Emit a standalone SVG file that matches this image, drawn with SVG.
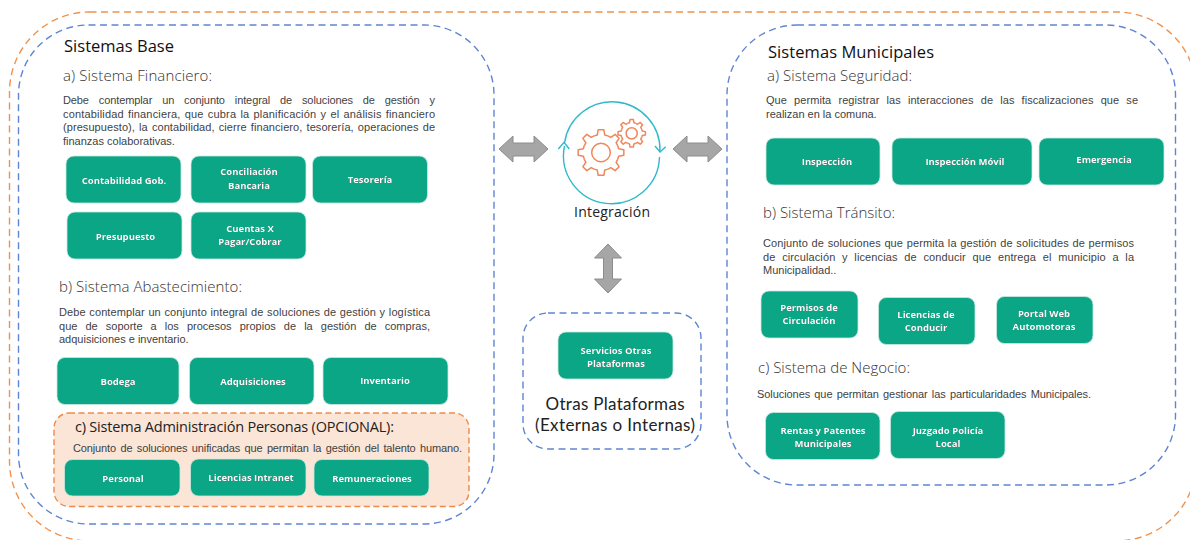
<svg xmlns="http://www.w3.org/2000/svg" xmlns:xlink="http://www.w3.org/1999/xlink" width="1190" height="540" viewBox="0 0 1190 540">
<style>
text{font-family:"Open Sans","Liberation Sans",sans-serif}
.oc{fill:none;stroke:#f0924e;stroke-width:1.4;stroke-dasharray:7 4.5}
.bc{fill:none;stroke:#5f85d2;stroke-width:1.4;stroke-dasharray:7 4.5}
.g{fill:#0ba686;stroke:#c9e9e0;stroke-width:.8}
.l{fill:#fff;font-size:9.5px;font-weight:700;text-anchor:middle;filter:drop-shadow(.6px .6px .5px rgba(0,0,0,.5))}
.h{fill:#111;font-size:16.5px}
.s{fill:#333;font-size:15px;font-weight:300}
.b{fill:#3f3f3f;font-size:11px;font-family:"Liberation Sans",Arial,sans-serif}
.ot{fill:#222;font-size:17px;text-anchor:middle;font-family:Lato,"Open Sans",sans-serif}
.ar{fill:#a6a6a6;stroke:#8c8c8c;stroke-width:1}
.tl{fill:none;stroke:#2fb9c9;stroke-width:1.4}
.gr{fill:none;stroke:#f0875a;stroke-width:1.5;stroke-linejoin:round}
</style>
<defs>
<path id="tooth" d="M-6.89-16.63Q-5.3-17.2-3.74-17.6L-2.8-22.83L2.8-22.83L3.74-17.6Q5.3-17.2 6.89-16.63"/>
<g id="gear">
<use xlink:href="#tooth" href="#tooth"/>
<use xlink:href="#tooth" href="#tooth" transform="rotate(45)"/>
<use xlink:href="#tooth" href="#tooth" transform="rotate(90)"/>
<use xlink:href="#tooth" href="#tooth" transform="rotate(135)"/>
<use xlink:href="#tooth" href="#tooth" transform="rotate(180)"/>
<use xlink:href="#tooth" href="#tooth" transform="rotate(225)"/>
<use xlink:href="#tooth" href="#tooth" transform="rotate(270)"/>
<use xlink:href="#tooth" href="#tooth" transform="rotate(315)"/>
<circle r="9.3"/>
</g>
</defs>
<rect width="1190" height="540" fill="#fff"/>

<g id="outer"><rect class="oc" x="9.5" y="12" width="1187" height="529" rx="80"/></g>

<g id="sistemas-base">
<rect class="bc" x="18.5" y="25" width="475.5" height="499" rx="70"/>
<text class="h" x="64" y="52" textLength="110">Sistemas Base</text>
<text class="s" x="63" y="81" textLength="149">a) Sistema Financiero:</text>
<text class="b" x="63" y="104" word-spacing="7" textLength="372">Debe contemplar un conjunto integral de soluciones de gestión y</text>
<text class="b" x="63" y="117.5" word-spacing="1" textLength="372">contabilidad financiera, que cubra la planificación y el análisis financiero</text>
<text class="b" x="63" y="131" word-spacing="1" textLength="372">(presupuesto), la contabilidad, cierre financiero, tesorería, operaciones de</text>
<text class="b" x="63" y="144.5">finanzas colaborativas.</text>
<text class="s" x="59" y="292" textLength="183">b) Sistema Abastecimiento:</text>
<text class="b" x="59" y="316" word-spacing=".5" textLength="371">Debe contemplar un conjunto integral de soluciones de gestión y logística</text>
<text class="b" x="59" y="329.5" word-spacing="5" textLength="371">que de soporte a los procesos propios de la gestión de compras,</text>
<text class="b" x="59" y="343">adquisiciones e inventario.</text>
</g>
<g id="contabilidad"><rect class="g" x="66" y="156" width="115" height="47" rx="8"/><text class="l" x="124" y="183.5">Contabilidad Gob.</text></g>
<g id="conciliacion"><rect class="g" x="191" y="156" width="115" height="47" rx="8"/><text class="l" x="249" y="175">Conciliación</text><text class="l" x="249" y="188.5">Bancaria</text></g>
<g id="tesoreria"><rect class="g" x="312.5" y="156" width="115" height="47" rx="8"/><text class="l" x="370" y="183">Tesorería</text></g>
<g id="presupuesto"><rect class="g" x="67" y="212" width="115" height="47" rx="8"/><text class="l" x="125.5" y="239.5">Presupuesto</text></g>
<g id="cuentas"><rect class="g" x="191" y="212" width="115" height="47" rx="8"/><text class="l" x="250" y="231.5">Cuentas X</text><text class="l" x="250" y="244.5">Pagar/Cobrar</text></g>
<g id="bodega"><rect class="g" x="57" y="357.5" width="122" height="47" rx="8"/><text class="l" x="118" y="384.5">Bodega</text></g>
<g id="adquisiciones"><rect class="g" x="189.5" y="357.5" width="124.5" height="47" rx="8"/><text class="l" x="253" y="385">Adquisiciones</text></g>
<g id="inventario"><rect class="g" x="323" y="357.5" width="125" height="47" rx="8"/><text class="l" x="385" y="383.5">Inventario</text></g>

<g id="administracion-personas">
<rect x="54" y="413" width="415" height="93.5" rx="15" fill="#fbe5d6" stroke="#ed8a4a" stroke-width="1.4" stroke-dasharray="6 3.5"/>
<text x="75" y="432" fill="#222" font-size="14.5" textLength="319">c) Sistema Administración Personas (OPCIONAL):</text>
<text class="b" x="73" y="451.5" word-spacing="1.5" textLength="389">Conjunto de soluciones unificadas que permitan la gestión del talento humano.</text>
</g>
<g id="personal"><rect class="g" x="64.5" y="459.5" width="115.5" height="36.5" rx="8"/><text class="l" x="123" y="481.5">Personal</text></g>
<g id="licencias-intranet"><rect class="g" x="190.5" y="459" width="115.5" height="37" rx="8"/><text class="l" x="251" y="481">Licencias Intranet</text></g>
<g id="remuneraciones"><rect class="g" x="314" y="459.5" width="115" height="36.5" rx="8"/><text class="l" x="372" y="481.5">Remuneraciones</text></g>

<g id="integracion">
<path class="tl" d="M659.5 157A48 48 0 1 1 564.5 146"/>
<path class="tl" d="M564.5 143A48 48 0 0 1 660 151"/>
<path class="tl" d="M558.3 149L564 142.3L569.3 149"/>
<path class="tl" d="M655 146L660 152L665.700 146.700"/>
<use class="gr" xlink:href="#gear" href="#gear" transform="translate(601 152.5)"/>
<use class="gr" xlink:href="#gear" href="#gear" transform="translate(631.7 133.3) scale(.6)" style="stroke-width:2.5"/>
<text x="612" y="217" fill="#222" font-size="14" text-anchor="middle" textLength="76">Integración</text>
</g>

<g id="connectors">
<path class="ar" d="M499 149L513 136V143H534V136L548 149L534 162V156H513V162Z"/>
<path class="ar" d="M673 149L687 136V143H708V136L722 149L708 162V156H687V162Z"/>
<path class="ar" d="M608 244L621.5 258H612.5V279H621.5L608 293L594.5 279H603.5V258H594.5Z"/>
</g>

<g id="otras-plataformas">
<rect class="bc" x="523" y="313" width="178" height="136" rx="25"/>
<text class="ot" x="615" y="410" textLength="139">Otras Plataformas</text>
<text class="ot" x="615" y="431" textLength="160">(Externas o Internas)</text>
</g>
<g id="servicios"><rect class="g" x="558" y="332" width="115" height="47" rx="8"/><text class="l" x="616" y="354">Servicios Otras</text><text class="l" x="616" y="367">Plataformas</text></g>

<g id="sistemas-municipales">
<rect class="bc" x="727" y="25" width="448.5" height="460" rx="70"/>
<text class="h" x="768" y="58" textLength="166">Sistemas Municipales</text>
<text class="s" x="767" y="81" textLength="145">a) Sistema Seguridad:</text>
<text class="b" x="766" y="104" word-spacing="4" textLength="372">Que permita registrar las interacciones de las fiscalizaciones que se</text>
<text class="b" x="766" y="117.5">realizan en la comuna.</text>
<text class="s" x="763" y="218" textLength="132">b) Sistema Tránsito:</text>
<text class="b" x="763" y="247" word-spacing=".5" textLength="371">Conjunto de soluciones que permita la gestión de solicitudes de permisos</text>
<text class="b" x="763" y="260.5" word-spacing="3.5" textLength="371">de circulación y licencias de conducir que entrega el municipio a la</text>
<text class="b" x="763" y="274">Municipalidad..</text>
<text class="s" x="758" y="373" textLength="152">c) Sistema de Negocio:</text>
<text class="b" x="757" y="397.5" word-spacing="1.2" textLength="334">Soluciones que permitan gestionar las particularidades Municipales.</text>
</g>
<g id="inspeccion"><rect class="g" x="766" y="138" width="114" height="47" rx="8"/><text class="l" x="827" y="165">Inspección</text></g>
<g id="inspeccion-movil"><rect class="g" x="892" y="138" width="140" height="47" rx="8"/><text class="l" x="965" y="165">Inspección Móvil</text></g>
<g id="emergencia"><rect class="g" x="1039" y="138" width="125" height="47" rx="8"/><text class="l" x="1104" y="162.5">Emergencia</text></g>
<g id="permisos"><rect class="g" x="761" y="291" width="97" height="47" rx="8"/><text class="l" x="809" y="310.5">Permisos de</text><text class="l" x="809" y="323.5">Circulación</text></g>
<g id="licencias-conducir"><rect class="g" x="878.5" y="297.5" width="96.5" height="47" rx="8"/><text class="l" x="926" y="317.5">Licencias de</text><text class="l" x="926" y="330.5">Conducir</text></g>
<g id="portal-web"><rect class="g" x="996.5" y="296.5" width="96.5" height="47" rx="8"/><text class="l" x="1044" y="316.5">Portal Web</text><text class="l" x="1044" y="329.5">Automotoras</text></g>
<g id="rentas"><rect class="g" x="765.5" y="412.5" width="114.5" height="47" rx="8"/><text class="l" x="823" y="433.5">Rentas y Patentes</text><text class="l" x="823" y="446.5">Municipales</text></g>
<g id="juzgado"><rect class="g" x="890.5" y="411.5" width="114.5" height="47" rx="8"/><text class="l" x="948" y="433.5">Juzgado Policía</text><text class="l" x="948" y="446.5">Local</text></g>
</svg>
